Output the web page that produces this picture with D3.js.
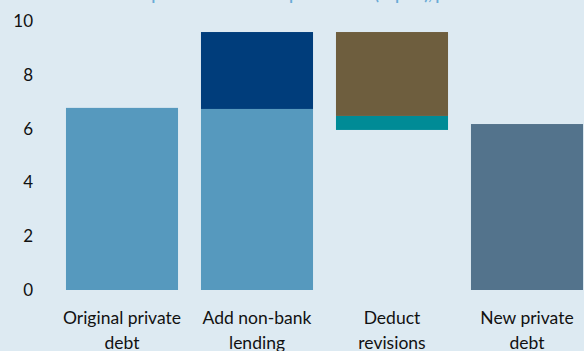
<!DOCTYPE html>
<html>
<head>
<meta charset="utf-8">
<script src="https://cdn.jsdelivr.net/npm/d3@7"></script>
<style>
  html, body { margin: 0; padding: 0; background: #DDEAF2; }
  svg { display: block; }
  text { font-family: Lato, "Open Sans", sans-serif; }
</style>
</head>
<body>
<svg id="chart" width="584" height="351"></svg>
<script>
// Waterfall of private debt estimates
const categories = ["Original private debt", "Add non-bank lending", "Deduct revisions", "New private debt"];
const baseHidden   = [0,    0,    5.95, 0];    // invisible floor of each floating bar
const originalDebt = [6.77, 6.73, 0,    0];
const nonBank      = [0,    2.86, 0,    0];
const revisionTeal = [0,    0,    0.52, 0];
const revisionMain = [0,    0,    3.12, 0];
const newDebt      = [0,    0,    0,    6.17];
const yTicks = [0, 2, 4, 6, 8, 10];
const title = "Estimates of the private debt with respect to GDP (impact), per cent";

const seriesKeys = ["base", "original", "nonBank", "revTeal", "revMain", "newDebt"];
const seriesColor = {
  base: "none",
  original: "#5699BE",
  nonBank: "#003D7B",
  revTeal: "#008B96",
  revMain: "#6E5E3E",
  newDebt: "#53738C"
};

const rows = categories.map((c, i) => ({
  cat: c,
  base: baseHidden[i],
  original: originalDebt[i],
  nonBank: nonBank[i],
  revTeal: revisionTeal[i],
  revMain: revisionMain[i],
  newDebt: newDebt[i]
}));

const svg = d3.select("#chart");

const x = d3.scaleBand().domain(categories).range([54.5, 594.5]).paddingInner(0.17).paddingOuter(0.085);
const y = d3.scaleLinear().domain([0, 10]).range([290, 21]);

// title, running off the top edge
svg.append("text")
  .attr("x", 40).attr("y", 0)
  .attr("fill", "#6AAAD6")
  .attr("font-weight", "bold")
  .attr("font-size", 15)
  .text(title);

const stack = d3.stack().keys(seriesKeys)(rows);

const g = svg.append("g");
g.selectAll("g.series").data(stack).join("g")
  .attr("class", "series")
  .attr("fill", d => seriesColor[d.key])
  .selectAll("rect").data(d => d.filter(p => p[1] - p[0] > 0)).join("rect")
  .attr("x", p => x(p.data.cat))
  .attr("width", x.bandwidth())
  .attr("y", p => y(p[1]))
  .attr("height", p => y(p[0]) - y(p[1]));

// y axis labels (no line, no tick marks)
const yAxis = d3.axisLeft(y).tickValues(yTicks).tickSize(0).tickPadding(0);
const ya = svg.append("g").attr("transform", "translate(33,0)").call(yAxis);
ya.select(".domain").remove();
ya.selectAll("text").attr("font-size", 17).attr("fill", "#111").attr("font-family", "Lato, sans-serif");

// x category labels, wrapped onto two lines
const wrap = {
  "Original private debt": ["Original private", "debt"],
  "Add non-bank lending": ["Add non-bank", "lending"],
  "Deduct revisions": ["Deduct", "revisions"],
  "New private debt": ["New private", "debt"]
};
const xa = svg.append("g");
categories.forEach(c => {
  const t = xa.append("text")
    .attr("x", x(c) + x.bandwidth() / 2)
    .attr("y", 324)
    .attr("text-anchor", "middle")
    .attr("font-size", 17.5)
    .attr("fill", "#111");
  wrap[c].forEach((line, k) => {
    t.append("tspan").attr("x", x(c) + x.bandwidth() / 2).attr("dy", k === 0 ? 0 : 25).text(line);
  });
});
</script>
</body>
</html>
